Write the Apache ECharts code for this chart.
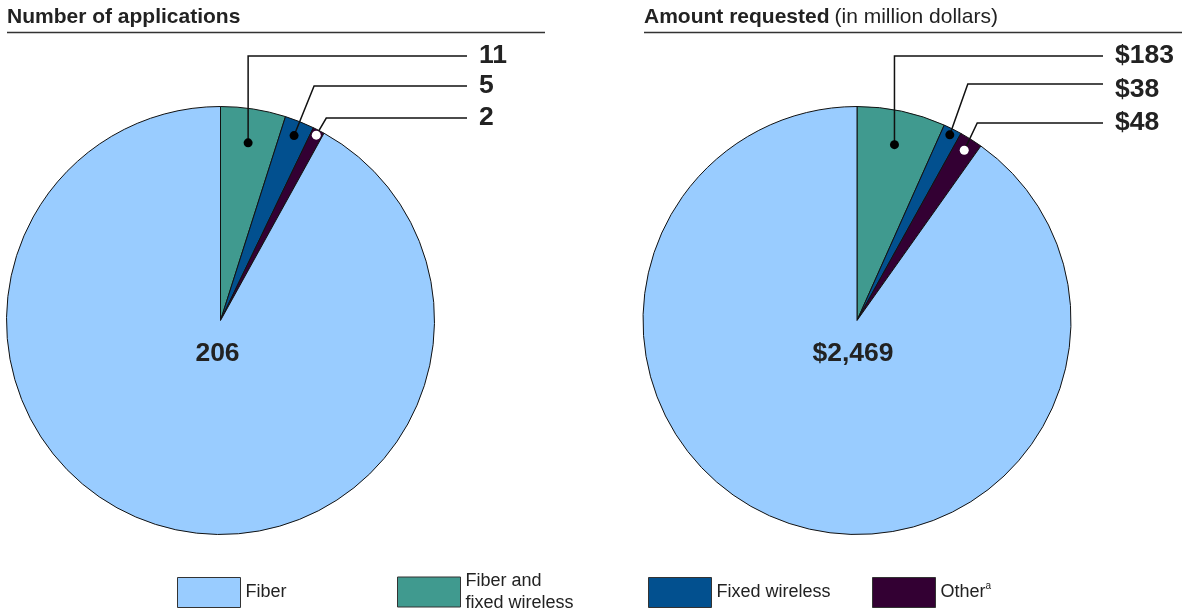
<!DOCTYPE html>
<html><head><meta charset="utf-8">
<script src="https://cdn.jsdelivr.net/npm/echarts@6/dist/echarts.min.js"></script>
<style>html,body{margin:0;padding:0;background:#fff}#c{width:1182px;height:614px}</style>
</head><body><div id="c"></div>
<script>
// ---- data ----
const categories = ['Fiber and fixed wireless', 'Fixed wireless', 'Other', 'Fiber'];
const applications = [11, 5, 2, 206];
const amounts = [183, 38, 48, 2469];
const applicationLabels = ['11', '5', '2', '206'];
const amountLabels = ['$183', '$38', '$48', '$2,469'];
const legendOrder = ['Fiber', 'Fiber and fixed wireless', 'Fixed wireless', 'Other'];
const legendTexts = ['Fiber', 'Fiber and\nfixed wireless', 'Fixed wireless', 'Other{sup|a}'];
const titles = ['Number of applications', 'Amount requested', '(in million dollars)'];

// ---- styles / layout ----
const colors = ['#409a8f', '#02508f', '#330033', '#99ccff'];
const FONT = '"Liberation Sans", Arial, sans-serif';
const TXT = '#222';
const pies = [
  { values: applications, labels: applicationLabels, center: [220.5, 320.5], r: 214,
    labelX: 479, lineEndX: 467, labelY: [56, 86, 118], lineY: [56, 86, 118],
    elbowDx: [0, 20, 10], dotR: [0.84, 0.93, 0.975], dotColor: ['#000', '#000', '#fff'], centerLabel: [-3, 33] },
  { values: amounts, labels: amountLabels, center: [857, 320.5], r: 214,
    labelX: 1115, lineEndX: 1103, labelY: [56, 90, 123], lineY: [56, 84, 123],
    elbowDx: [0, 18, 13], dotR: [0.84, 0.97, 0.94], dotColor: ['#000', '#000', '#fff'], centerLabel: [-4, 33] }
];
const legendLeft = [177, 397, 648, 872];
const legendTop = [577, 570, 577, 577];

const chart = echarts.init(document.getElementById('c'), null, { renderer: 'canvas' });

function geom(si, i) {
  const L = chart.getModel().getSeriesByIndex(si).getData().getItemLayout(i);
  return { cx: L.cx, cy: L.cy, r: L.r, mid: (L.startAngle + L.endAngle) / 2 };
}
function dotPos(si, i) {
  const p = pies[si], g = geom(si, i);
  return [g.cx + g.r * p.dotR[i] * Math.cos(g.mid), g.cy + g.r * p.dotR[i] * Math.sin(g.mid)];
}

function seriesFor(p, si) {
  return {
    type: 'pie', center: p.center, radius: p.r, startAngle: 90, clockwise: true,
    silent: true, avoidLabelOverlap: false, animation: false,
    itemStyle: { borderColor: '#111', borderWidth: 1 },
    emphasis: { disabled: true },
    label: { show: true, position: 'outside', formatter: d => p.labels[d.dataIndex],
      fontFamily: FONT, fontSize: 26.5, fontWeight: 'bold', color: TXT },
    labelLine: { show: false },
    labelLayout: function (params) {
      const i = params.dataIndex;
      const g = geom(si, i);
      if (i === 3) {
        return { x: g.cx + p.centerLabel[0], y: g.cy + p.centerLabel[1], align: 'center', verticalAlign: 'middle' };
      }
      return { x: p.labelX, y: p.labelY[i], align: 'left', verticalAlign: 'middle' };
    },
    data: categories.map((c, i) => {
      const item = { name: c, value: p.values[i], itemStyle: { color: colors[i] } };
      if (i === 3) { item.label = { position: 'inside' }; }
      return item;
    })
  };
}

const legendBase = {
  orient: 'horizontal', itemWidth: 63, itemHeight: 30, itemGap: 0, padding: 0,
  icon: 'rect', selectedMode: false,
  itemStyle: { borderColor: '#333', borderWidth: 1 },
  textStyle: { fontFamily: FONT, fontSize: 18, color: TXT, lineHeight: 22,
    rich: { sup: { fontFamily: FONT, fontSize: 10, color: TXT, verticalAlign: 'top', lineHeight: 22, padding: [0, 0, 10, 0] } } }
};

chart.setOption({
  animation: false,
  title: [
    { text: titles[0], left: 7, top: 7, padding: 0,
      textStyle: { fontFamily: FONT, fontSize: 21, fontWeight: 'bold', color: TXT } },
    { text: '{b|' + titles[1] + '} {n|' + titles[2] + '}', left: 644, top: 7, padding: 0,
      textStyle: { rich: {
        b: { fontFamily: FONT, fontSize: 21, fontWeight: 'bold', color: TXT },
        n: { fontFamily: FONT, fontSize: 21, fontWeight: 'normal', color: TXT } } } }
  ],
  legend: legendOrder.map((name, k) => Object.assign({}, legendBase, {
    data: [name], left: legendLeft[k], top: legendTop[k], formatter: () => legendTexts[k]
  })),
  series: pies.map((p, si) => seriesFor(p, si))
});

// callout leader lines + dots, and title rules
const graphics = [
  { type: 'line', shape: { x1: 7, y1: 32.5, x2: 545, y2: 32.5 }, style: { stroke: '#333', lineWidth: 1.6 }, silent: true },
  { type: 'line', shape: { x1: 644, y1: 32.5, x2: 1182, y2: 32.5 }, style: { stroke: '#333', lineWidth: 1.6 }, silent: true }
];
pies.forEach((p, si) => {
  for (let i = 0; i < 3; i++) {
    const d = dotPos(si, i);
    graphics.push({ type: 'polyline', z: 99, silent: true,
      shape: { points: [[d[0], d[1]], [d[0] + p.elbowDx[i], p.lineY[i]], [p.lineEndX, p.lineY[i]]] },
      style: { stroke: '#111', lineWidth: 1.5, fill: null } });
    graphics.push({ type: 'circle', z: 100, silent: true, shape: { cx: d[0], cy: d[1], r: 4.5 },
      style: { fill: p.dotColor[i] } });
  }
});
chart.setOption({ graphic: graphics });
</script>
</body></html>
